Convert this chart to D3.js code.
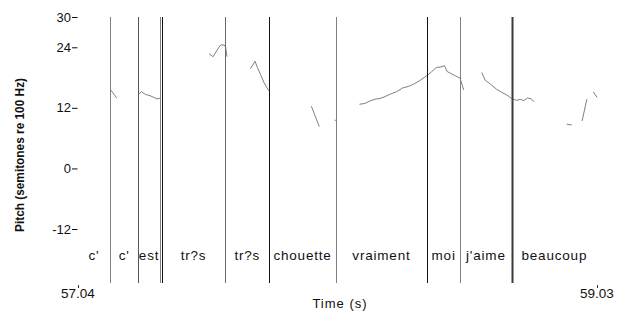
<!DOCTYPE html>
<html>
<head>
<meta charset="utf-8">
<script src="https://cdn.jsdelivr.net/npm/d3@7"></script>
<style>
  html, body { margin: 0; padding: 0; background: #fff; }
  svg { display: block; }
  text { font-family: "Liberation Sans", Arial, Helvetica, sans-serif; }
</style>
</head>
<body>
<script>
// word tier
const words = ["c'", "c'", "est", "tr?s", "tr?s", "chouette", "vraiment", "moi", "j'aime", "beaucoup"]
const wordStart = [57.040, 57.163, 57.271, 57.362, 57.604, 57.774, 58.028, 58.379, 58.505, 58.703]
const wordEnd = [57.163, 57.271, 57.354, 57.604, 57.774, 58.028, 58.379, 58.505, 58.703, 59.030]

// boundary lines drawn on top of the pitch track
const boundaryTimes = [57.163, 57.271, 57.354, 57.362, 57.604, 57.774, 58.028, 58.379, 58.505, 58.703]
const boundaryColors = ["#808080", "#555", "#808080", "#111", "#6a6a6a", "#111", "#808080", "#111", "#808080", "#3a3a3a"]
const boundaryWidths = [1, 1, 1, 1, 1, 1, 1, 1, 1, 2]

// axes
const xTicks = [57.04, 59.03]
const yTicks = [30, 24, 12, 0, -12]

// pitch track, [time (s), semitones re 100 Hz]
const pitchSegments = [
  [[57.163, 15.74], [57.188, 13.96]],
  [[57.271, 14.61], [57.283, 15.21], [57.299, 14.65], [57.316, 14.42], [57.331, 14.06], [57.343, 13.76], [57.354, 13.92]],
  [[57.542, 22.73], [57.558, 22.14], [57.569, 23.07], [57.581, 24.06], [57.588, 24.46], [57.600, 24.46], [57.606, 24.06], [57.611, 22.14]],
  [[57.701, 19.74], [57.719, 21.23], [57.728, 20.00], [57.740, 18.57], [57.753, 17.03], [57.771, 15.39]],
  [[57.935, 12.32], [57.965, 8.28]],
  [[58.024, 9.54], [58.032, 9.54]],
  [[58.119, 12.71], [58.140, 12.87], [58.160, 13.37], [58.179, 13.72], [58.198, 13.86], [58.217, 14.22],
   [58.236, 14.69], [58.262, 15.21], [58.285, 15.94], [58.306, 16.24], [58.326, 16.67], [58.351, 17.43],
   [58.378, 18.38], [58.396, 19.17], [58.414, 20.00], [58.432, 20.10], [58.445, 20.36], [58.455, 19.21],
   [58.466, 18.91], [58.486, 18.38], [58.505, 17.86], [58.519, 15.54]],
  [[58.588, 19.01], [58.602, 17.43], [58.616, 16.93], [58.627, 16.44], [58.645, 15.68], [58.664, 15.09],
   [58.684, 14.55], [58.703, 13.86], [58.722, 13.47], [58.735, 13.72], [58.749, 13.43], [58.764, 13.96],
   [58.777, 13.80], [58.789, 13.23]],
  [[58.914, 8.77], [58.933, 8.61]],
  [[58.973, 9.41], [58.991, 13.72]],
  [[59.016, 15.15], [59.030, 14.10]]
]

const width = 619
const height = 312
const plotTop = 17
const plotBottom = 283
const font = "Liberation Sans, Arial, sans-serif"

const svg = d3.select("body").append("svg")
  .attr("width", width)
  .attr("height", height)

const x = d3.scaleLinear().domain([57.04, 59.03]).range([78, 597])
const y = d3.scaleLinear().domain([-12, 30]).range([229, 17])

// y axis: labels with a little dash
const yAxis = svg.append("g")
yTicks.forEach(v => {
  yAxis.append("text")
    .attr("x", 71)
    .attr("y", y(v) + 4.5)
    .attr("text-anchor", "end")
    .attr("font-family", font)
    .attr("font-size", "13px")
    .attr("fill", "#111")
    .text(v)
  yAxis.append("line")
    .attr("x1", 72).attr("x2", 77.5)
    .attr("y1", y(v) + 0.5).attr("y2", y(v) + 0.5)
    .attr("stroke", "#111")
})

svg.append("text")
  .attr("transform", `translate(24,155) rotate(-90)`)
  .attr("text-anchor", "middle")
  .attr("font-family", font)
  .attr("font-size", "13px")
  .attr("font-weight", "bold")
  .attr("textLength", 154)
  .attr("lengthAdjust", "spacingAndGlyphs")
  .attr("fill", "#111")
  .text("Pitch (semitones re 100 Hz)")

// x axis: small tick marks with labels underneath
xTicks.forEach(v => {
  svg.append("line")
    .attr("x1", Math.round(x(v)) + 0.5).attr("x2", Math.round(x(v)) + 0.5)
    .attr("y1", plotBottom + 2).attr("y2", plotBottom + 5)
    .attr("stroke", "#333")
  svg.append("text")
    .attr("x", x(v))
    .attr("y", 298)
    .attr("text-anchor", "middle")
    .attr("font-family", font)
    .attr("font-size", "13.5px")
    .attr("fill", "#111")
    .text(v.toFixed(2))
})

svg.append("text")
  .attr("x", 340)
  .attr("y", 308)
  .attr("text-anchor", "middle")
  .attr("font-family", font)
  .attr("font-size", "13px")
  .attr("letter-spacing", "1px")
  .attr("fill", "#111")
  .text("Time (s)")

// pitch contour
const line = d3.line()
  .x(d => x(d[0]))
  .y(d => y(d[1]))

svg.append("g")
  .selectAll("path")
  .data(pitchSegments)
  .join("path")
  .attr("d", line)
  .attr("fill", "none")
  .attr("stroke", "#808080")
  .attr("stroke-width", 1)

// interval boundaries
svg.append("g")
  .selectAll("line")
  .data(boundaryTimes)
  .join("line")
  .attr("x1", d => Math.round(x(d)) + 0.5)
  .attr("x2", d => Math.round(x(d)) + 0.5)
  .attr("y1", plotTop)
  .attr("y2", plotBottom)
  .attr("stroke", (d, i) => boundaryColors[i])
  .attr("stroke-width", (d, i) => boundaryWidths[i])

// word labels
svg.append("g")
  .selectAll("text")
  .data(words)
  .join("text")
  .attr("x", (d, i) => (x(wordStart[i]) + x(wordEnd[i])) / 2)
  .attr("y", 259.5)
  .attr("text-anchor", "middle")
  .attr("font-family", font)
  .attr("font-size", "13.5px")
  .attr("letter-spacing", "0.8px")
  .attr("fill", "#111")
  .text(d => d)
</script>
</body>
</html>
